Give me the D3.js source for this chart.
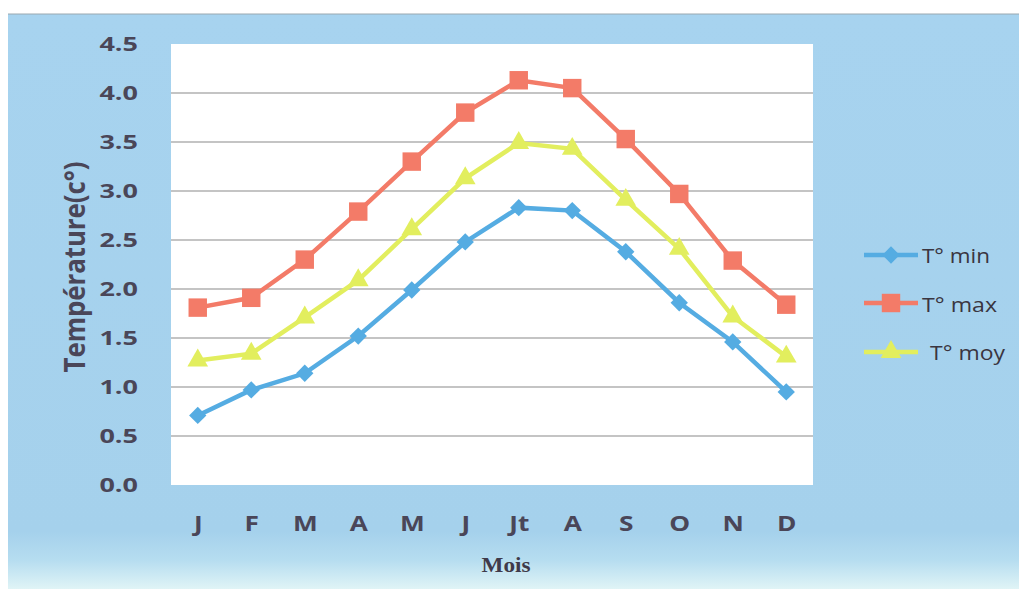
<!DOCTYPE html>
<html><head><meta charset="utf-8">
<script src="https://cdn.jsdelivr.net/npm/d3@7"></script>
<style>body{margin:0;background:#fff}svg{display:block}</style>
</head><body><svg id="c" width="1019" height="589"></svg>
<script>
const months = ["J","F","M","A","M","J","Jt","A","S","O","N","D"];
const tMin = [0.71,0.97,1.14,1.52,1.99,2.48,2.83,2.80,2.38,1.86,1.46,0.95];
const tMax = [1.81,1.91,2.30,2.79,3.30,3.80,4.13,4.05,3.53,2.97,2.29,1.84];
const tMoy = [1.27,1.34,1.71,2.09,2.61,3.13,3.49,3.43,2.91,2.41,1.72,1.31];
const yTicks = [0,0.5,1,1.5,2,2.5,3,3.5,4,4.5];
const seriesNames = ["T° min","T° max","T° moy"];

const svg = d3.select("#c");
function stretch(sel, f){
  sel.each(function(){
    const w = this.getComputedTextLength();
    d3.select(this).attr("textLength", w*f).attr("lengthAdjust","spacingAndGlyphs");
  });
}
const defs = svg.append("defs");
const g1 = defs.append("linearGradient").attr("id","bg").attr("x1",0).attr("y1",0).attr("x2",0).attr("y2",1);
g1.append("stop").attr("offset","0").attr("stop-color","#a7d3ef");
g1.append("stop").attr("offset","0.9").attr("stop-color","#a5d1ec");
g1.append("stop").attr("offset","0.95").attr("stop-color","#b6ddf0");
g1.append("stop").attr("offset","1").attr("stop-color","#e0f4f6");
svg.append("rect").attr("x",8).attr("y",14).attr("width",1011).attr("height",575).attr("fill","url(#bg)");
svg.append("line").attr("x1",8).attr("x2",1019).attr("y1",14).attr("y2",14).attr("stroke","#9aa8b0").attr("stroke-width",1);

const pL=171, pR=813, pT=44, pB=485;
const x = d3.scalePoint().domain(d3.range(12)).range([pL,pR]).padding(0.5);
const y = d3.scaleLinear().domain([0,4.5]).range([pB,pT]);

svg.append("rect").attr("x",pL).attr("y",pT).attr("width",pR-pL).attr("height",pB-pT).attr("fill","#fff");
svg.append("g").selectAll("line").data(yTicks.filter(v=>v>0 && v<4.5)).join("line")
  .attr("x1",pL).attr("x2",pR).attr("y1",d=>y(d)).attr("y2",d=>y(d))
  .attr("stroke","#8a8a8a").attr("stroke-width",1.2);

const txtCol = "#4a4658";
const yAxis = svg.append("g").attr("transform",`translate(${pL},0)`)
  .call(d3.axisLeft(y).tickValues(yTicks).tickFormat(d3.format(".1f")).tickSize(0).tickPadding(33));
yAxis.select(".domain").remove();
yAxis.selectAll("text").attr("font-family","Open Sans, sans-serif").attr("font-weight","bold")
  .attr("font-size","20px").attr("fill",txtCol).call(stretch,1.35);

const xAxis = svg.append("g").attr("transform",`translate(0,${pB})`)
  .call(d3.axisBottom(x).tickFormat(i=>months[i]).tickSize(0).tickPadding(31));
xAxis.select(".domain").remove();
xAxis.selectAll("text").attr("font-family","Open Sans, sans-serif").attr("font-weight","bold")
  .attr("font-size","21px").attr("fill",txtCol).call(stretch,1.25);

svg.append("text").attr("x",506).attr("y",572).attr("text-anchor","middle")
  .attr("font-family","Liberation Serif, serif").attr("font-weight","bold").attr("font-size","20px")
  .attr("fill","#3f3a4a").attr("textLength",49).attr("lengthAdjust","spacingAndGlyphs").text("Mois");
svg.append("text").attr("transform","translate(85,267) rotate(-90) scale(1,1.3)").attr("text-anchor","middle")
  .attr("font-family","Open Sans, sans-serif").attr("font-weight","bold").attr("font-size","22px")
  .attr("fill",txtCol).attr("textLength",211).attr("lengthAdjust","spacingAndGlyphs").text("Température(c°)");

const series = [
  {name:seriesNames[0], data:tMin, color:"#55ace2", shape:d3.symbolSquare, size:150, rot:45, tx:922, tw:68},
  {name:seriesNames[1], data:tMax, color:"#f37b68", shape:d3.symbolSquare, size:340, rot:0, tx:922, tw:75},
  {name:seriesNames[2], data:tMoy, color:"#e2ee5e", shape:d3.symbolTriangle, size:185, rot:0, tx:930, tw:75}
];
const line = d3.line().x((d,i)=>x(i)).y(d=>y(d));
series.forEach(s=>{
  svg.append("path").attr("d",line(s.data)).attr("fill","none").attr("stroke",s.color).attr("stroke-width",4.5);
  svg.append("g").selectAll("path").data(s.data).join("path")
    .attr("transform",(d,i)=>`translate(${x(i)},${y(d)}) rotate(${s.rot})`)
    .attr("d",d3.symbol().type(s.shape).size(s.size)).attr("fill",s.color);
});

const legY = [255,303,352];
const legBase = [263,312,360];
series.forEach((s,k)=>{
  const gy = legY[k];
  svg.append("line").attr("x1",864).attr("x2",918).attr("y1",gy).attr("y2",gy).attr("stroke",s.color).attr("stroke-width",4.5);
  svg.append("path").attr("transform",`translate(891,${gy}) rotate(${s.rot})`).attr("d",d3.symbol().type(s.shape).size(s.size)).attr("fill",s.color);
  svg.append("text").attr("x",s.tx).attr("y",legBase[k])
    .attr("font-family","Open Sans, sans-serif").attr("font-size","20px")
    .attr("textLength",s.tw).attr("lengthAdjust","spacingAndGlyphs")
    .attr("fill","#3a3540").text(s.name);
});
</script></body></html>
